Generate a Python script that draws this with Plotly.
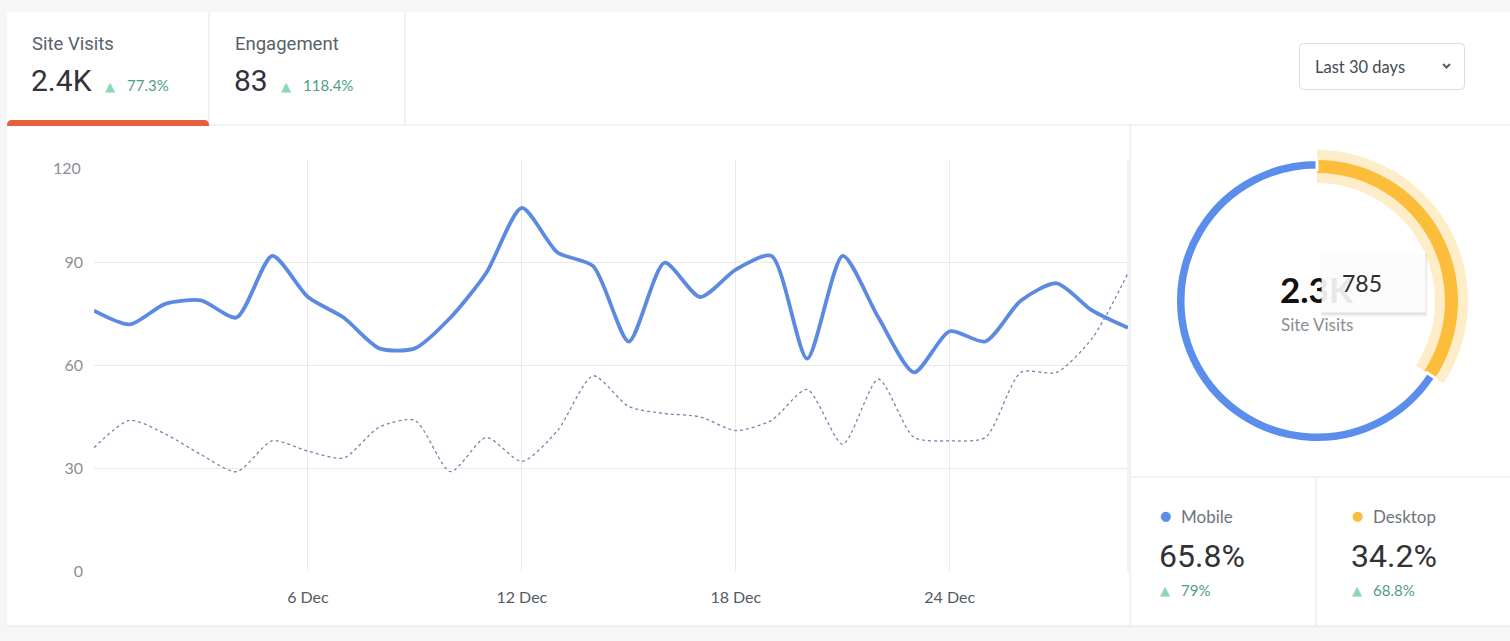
import plotly.graph_objects as go
import pandas as pd

W, H = 1510, 641

# ---------------- data ----------------
dates = pd.date_range("2023-11-30", periods=30, freq="D")
site_visits = [76, 72, 78, 79, 74, 92, 80, 74, 65, 65,
               74, 87, 106, 93, 89, 67, 90, 80, 88, 92,
               62, 92, 74, 58, 70, 67, 79, 84, 76, 71]
previous_period = [36, 44, 40, 34, 29, 38, 35, 33, 42, 44,
                   29, 39, 32, 41, 57, 48, 46, 45, 41, 44,
                   53, 37, 56, 39, 38, 39, 58, 58, 68, 87]
y_ticks = [0, 30, 60, 90, 120]
x_tick_dates = ["2023-12-06", "2023-12-12", "2023-12-18", "2023-12-24"]

device_labels = ["Desktop", "Mobile"]
device_values = [785, 1510]
device_share = ["34.2%", "65.8%"]
device_change = ["68.8%", "79%"]

kpi_names = ["Site Visits", "Engagement"]
kpi_values = ["2.4K", "83"]
kpi_changes = ["77.3%", "118.4%"]

total_label = "2.3K"
hover_value = "785"
period_label = "Last 30 days"

BLUE = "#5b8ae0"
DONUT_BLUE = "#5a8dec"
YELLOW = "#fbbd3a"
HALO = "rgba(251,190,60,0.28)"
GRID = "#e9e9e9"
GREEN_TXT = "#4f9e80"
GREEN_TRI = "#8bd8b7"
YTICK_COL = "#8b9096"


def X(px):
    return px / W


def Y(py):
    return 1 - py / H


fig = go.Figure()

# ---------------- line chart ----------------
fig.add_trace(go.Scatter(
    x=dates, y=previous_period, mode="lines",
    line=dict(color="#7186ad", width=1.3, dash="dot", shape="spline", smoothing=0.7),
    hoverinfo="skip", showlegend=False))
fig.add_trace(go.Scatter(
    x=dates, y=site_visits, mode="lines",
    line=dict(color=BLUE, width=3.8, shape="spline", smoothing=0.7),
    hoverinfo="skip", showlegend=False))

# ---------------- donut ----------------
cx, cy = 1317, 301


def dom(r):
    return dict(x=[X(cx - r), X(cx + r)], y=[Y(cy + r), Y(cy - r)])


fig.add_trace(go.Pie(
    labels=device_labels, values=device_values, sort=False, direction="clockwise",
    rotation=0, hole=118 / 151, domain=dom(151), textinfo="none", hoverinfo="skip",
    marker=dict(colors=[HALO, "rgba(0,0,0,0)"], line=dict(width=0)), showlegend=False))
fig.add_trace(go.Pie(
    labels=device_labels, values=device_values, sort=False, direction="clockwise",
    rotation=0, hole=128 / 141, domain=dom(141), textinfo="none", hoverinfo="skip",
    marker=dict(colors=[YELLOW, "rgba(0,0,0,0)"], line=dict(width=0)), showlegend=False))
fig.add_trace(go.Pie(
    labels=device_labels, values=device_values, sort=False, direction="clockwise",
    rotation=0, hole=131 / 141.5, domain=dom(141.5), textinfo="none", hoverinfo="skip",
    marker=dict(colors=["rgba(0,0,0,0)", DONUT_BLUE],
                line=dict(width=[0, 3], color=["rgba(0,0,0,0)", "white"])),
    showlegend=False))

# ---------------- shapes ----------------
shapes = []


def line(x0, y0, x1, y1, color="#e4e4e4", width=1):
    shapes.append(dict(type="line", xref="paper", yref="paper",
                       x0=X(x0), y0=Y(y0), x1=X(x1), y1=Y(y1),
                       line=dict(color=color, width=width), layer="below"))


shapes.append(dict(type="rect", xref="paper", yref="paper", x0=X(7), x1=X(1510),
                   y0=Y(626), y1=Y(12), fillcolor="white", line=dict(width=0), layer="below"))
line(209, 12, 209, 125)
line(405, 12, 405, 125)
line(209, 125, 1510, 125)
line(1130, 125, 1130, 626)
line(1130, 477, 1510, 477)
line(1316, 477, 1316, 626)
line(7, 626, 1510, 626)
line(1128, 160, 1128, 571, color=GRID)


def rounded_rect_path(x0, y0, x1, y1, r, top_only=False):
    def p(x, y):
        return f"{X(x)},{Y(y)}"
    if top_only:
        return (f"M {p(x0, y1)} L {p(x0, y0 + r)} Q {p(x0, y0)} {p(x0 + r, y0)} "
                f"L {p(x1 - r, y0)} Q {p(x1, y0)} {p(x1, y0 + r)} L {p(x1, y1)} Z")
    return (f"M {p(x0 + r, y0)} L {p(x1 - r, y0)} Q {p(x1, y0)} {p(x1, y0 + r)} "
            f"L {p(x1, y1 - r)} Q {p(x1, y1)} {p(x1 - r, y1)} L {p(x0 + r, y1)} "
            f"Q {p(x0, y1)} {p(x0, y1 - r)} L {p(x0, y0 + r)} Q {p(x0, y0)} {p(x0 + r, y0)} Z")


shapes.append(dict(type="path", xref="paper", yref="paper",
                   path=rounded_rect_path(7, 120, 209, 126, 5, top_only=True),
                   fillcolor="#e8603c", line=dict(width=0), layer="below"))
shapes.append(dict(type="path", xref="paper", yref="paper",
                   path=rounded_rect_path(1299.5, 43.5, 1464.5, 89.5, 4),
                   fillcolor="white", line=dict(color="#d9dde1", width=1), layer="below"))
shapes.append(dict(type="path", xref="paper", yref="paper",
                   path=f"M {X(1443)},{Y(64)} L {X(1446.5)},{Y(67.5)} L {X(1450)},{Y(64)}",
                   line=dict(color="#56606a", width=2), layer="above"))

# ---------------- annotations ----------------
ann = []


def text(x, y, s, size, color, family="Roboto", xanchor="left", yanchor="middle", bold=False, **kw):
    d = dict(x=X(x), y=Y(y), xref="paper", yref="paper", text=(f"<b>{s}</b>" if bold else s),
             showarrow=False, xanchor=xanchor, yanchor=yanchor,
             font=dict(size=size, color=color, family=family))
    d.update(kw)
    ann.append(d)


kpi_x = [30, 233]
for i in range(2):
    x0 = kpi_x[i]
    text(x0, 44, kpi_names[i], 18.5, "#56626b")
    text(x0 - 1, 81, kpi_values[i], 30, "#30343a")
    vx = x0 + (73 if i == 0 else 46)
    text(vx, 86, "▲", 13, GREEN_TRI, family="DejaVu Sans")
    text(vx + 22, 85, kpi_changes[i], 15, GREEN_TXT, family="Lato")

text(1313, 67, period_label, 16.5, "#444b52", family="Lato")

# top y tick label sits just inside the plot (as in the reference)
text(83, 167, str(y_ticks[-1]), 16, YTICK_COL, family="Lato", xanchor="right")

# donut centre
text(1317, 289, total_label, 35, "#111111", family="Lato", xanchor="center", bold=True)
text(1317, 324, "Site Visits", 17, "#8a8f95", family="Lato", xanchor="center")
# tooltip (shadow, box, value)
for k, a in [(4, 0.03), (3, 0.04), (2, 0.05)]:
    ann.append(dict(x=X(1321), y=Y(249.5 + k), xref="paper", yref="paper", text=" ",
                    showarrow=False, xanchor="left", yanchor="top", width=103 + k // 2,
                    height=61, borderpad=0, bgcolor=f"rgba(0,0,0,{a})"))
ann.append(dict(x=X(1321), y=Y(249.5), xref="paper", yref="paper", text=" ",
                showarrow=False, xanchor="left", yanchor="top", width=103, height=61,
                borderpad=0, bgcolor="rgba(255,255,255,0.9)"))
text(1340, 283, hover_value, 23, "#2b2f33", family="Lato")

# device legend
leg_x = [1350, 1158]
dot_col = [YELLOW, DONUT_BLUE]
for i in range(2):
    x0 = leg_x[i]
    text(x0, 515, "●", 13, dot_col[i], family="DejaVu Sans")
    text(x0 + 21, 516, device_labels[i], 17, "#6e757b", family="Lato")
    text(x0 - 1, 556, device_share[i], 32, "#2f3337")
    text(x0, 590, "▲", 13, GREEN_TRI, family="DejaVu Sans")
    text(x0 + 21, 590, device_change[i], 15, GREEN_TXT, family="Lato")

fig.update_layout(
    width=W, height=H, margin=dict(l=0, r=0, t=0, b=0, autoexpand=False),
    paper_bgcolor="#f6f6f6", plot_bgcolor="rgba(0,0,0,0)",
    shapes=shapes, annotations=ann, showlegend=False,
    xaxis=dict(domain=[X(94), X(1128)], type="date",
               range=[dates[0], dates[-1]],
               tickvals=x_tick_dates, tickformat="%-d %b",
               showgrid=True, gridcolor=GRID, gridwidth=1, zeroline=False, showline=False,
               ticks="", ticklabelstandoff=15, automargin=False,
               tickfont=dict(family="Lato", size=16, color="#555b61"), fixedrange=True),
    yaxis=dict(domain=[Y(571), Y(160)], range=[0, 120], tickvals=y_ticks,
               ticktext=[str(v) for v in y_ticks[:-1]] + [""],
               showgrid=True, gridcolor=GRID, gridwidth=1, zeroline=False, showline=False,
               ticks="", ticklabelstandoff=10, automargin=False,
               tickfont=dict(family="Lato", size=16, color=YTICK_COL), fixedrange=True),
)

fig.write_html("out.html", config=dict(displayModeBar=False))
